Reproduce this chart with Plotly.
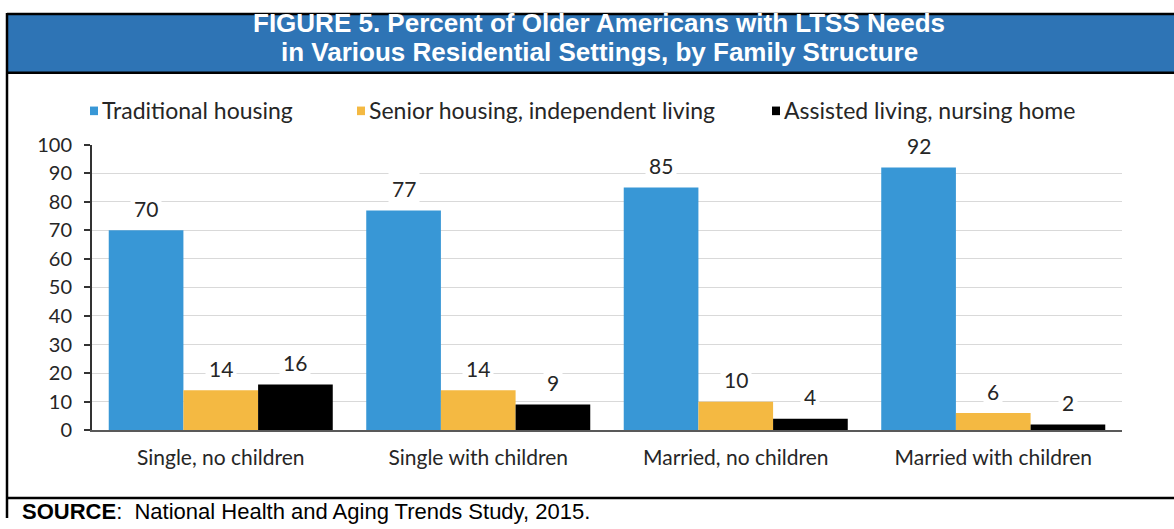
import plotly.graph_objects as go

categories = ["Single, no children", "Single with children", "Married, no children", "Married with children"]
series_names = ["Traditional housing", "Senior housing, independent living", "Assisted living, nursing home"]
traditional = [70, 77, 85, 92]
senior = [14, 14, 10, 6]
assisted = [16, 9, 4, 2]
y_ticks = [0, 10, 20, 30, 40, 50, 60, 70, 80, 90, 100]

colors = ["#3897d6", "#f4b942", "#000000"]
values = [traditional, senior, assisted]

W, H = 1174, 529
FONT = "Lato"
TXT = "#262626"

px = lambda x: x / W
py = lambda y: (H - y) / H

fig = go.Figure()
for name, vals, col in zip(series_names, values, colors):
    fig.add_trace(go.Bar(
        x=categories, y=vals, name=name, marker=dict(color=col, line=dict(width=0)),
        showlegend=False, hoverinfo="x+y+name",
    ))

# value labels with white background
AX_L, AX_R = 92, 1122
AX_TOP, AX_BOT = 138, 437
BARGAP = 0.13
bar_px = (AX_R - AX_L) / 4 * (1 - BARGAP) / 3
for si, vals in enumerate(values):
    for ci, v in enumerate(vals):
        fig.add_annotation(
            x=categories[ci], y=v, xref="x", yref="y", text=str(v), showarrow=False,
            xshift=(si - 1) * bar_px, yshift=22, yanchor="middle",
            bgcolor="white", font=dict(family=FONT, size=21, color=TXT),
            borderpad=3,
        )

# custom legend (series names + colour squares)
legend_text_x = [100, 367, 782]
LEG_Y = 102
for name, col, tx in zip(series_names, colors, legend_text_x):
    fig.add_shape(type="rect", xref="paper", yref="paper",
                  x0=px(tx - 10), x1=px(tx - 2), y0=py(LEG_Y + 5), y1=py(LEG_Y - 4),
                  fillcolor=col, line=dict(width=0))
    fig.add_annotation(xref="paper", yref="paper", x=px(tx), y=py(LEG_Y), text=name,
                       showarrow=False, xanchor="left", yanchor="middle",
                       font=dict(family=FONT, size=23, color=TXT))

# title band
BAND_BOT = 62.5
fig.add_shape(type="rect", xref="paper", yref="paper", x0=px(7), x1=1.0, y0=py(BAND_BOT), y1=1.0,
              fillcolor="#2e74b5", line=dict(width=0), layer="below")
# frame lines
SEP = 508
for (x0, y0, x1, y1) in [(7, 0, 7, H), (7, 1, W, 1), (7, BAND_BOT, W, BAND_BOT), (7, SEP, W, SEP)]:
    fig.add_shape(type="line", xref="paper", yref="paper", x0=px(x0), x1=px(x1), y0=py(y0), y1=py(y1),
                  line=dict(color="black", width=2.5))

title_lines = ["FIGURE 5. Percent of Older Americans with LTSS Needs",
               "in Various Residential Settings, by Family Structure"]
for line, ty in zip(title_lines, [10.5, 41.0]):
    fig.add_annotation(xref="paper", yref="paper", x=px(599), y=py(ty), showarrow=False,
                       text="<b>" + line + "</b>",
                       font=dict(family="Liberation Sans", size=26, color="white"),
                       xanchor="center", yanchor="middle")
fig.add_annotation(xref="paper", yref="paper", x=px(20), y=py(522), showarrow=False,
                   text="<b>SOURCE</b>:\u00a0 National Health and Aging Trends Study, 2015.",
                   font=dict(family="Liberation Sans", size=22, color="black"), xanchor="left", yanchor="middle")

fig.update_layout(
    width=W, height=H, margin=dict(l=0, r=0, t=0, b=0),
    paper_bgcolor="white", plot_bgcolor="white",
    barmode="group", bargap=BARGAP, bargroupgap=0,
    showlegend=False,
    xaxis=dict(domain=[px(AX_L), px(AX_R)], range=[-0.5, 3.5], showgrid=False,
               showline=True, linecolor="#595959", linewidth=2, ticks="",
               ticklabelstandoff=8,
               tickfont=dict(family=FONT, size=21, color=TXT), fixedrange=True),
    yaxis=dict(domain=[py(AX_BOT), py(AX_TOP)], range=[0, 100], tickvals=y_ticks,
               showgrid=True, gridcolor="#d9d9d9", gridwidth=1,
               showline=True, linecolor="#333333", linewidth=2,
               ticks="outside", ticklen=6, tickcolor="#333333", tickwidth=2,
               ticklabelstandoff=8,
               tickfont=dict(family=FONT, size=20, color=TXT), zeroline=False, fixedrange=True),
)

fig.write_html("out.html", config={"displayModeBar": False},
               post_script="document.body.style.margin='0';")
